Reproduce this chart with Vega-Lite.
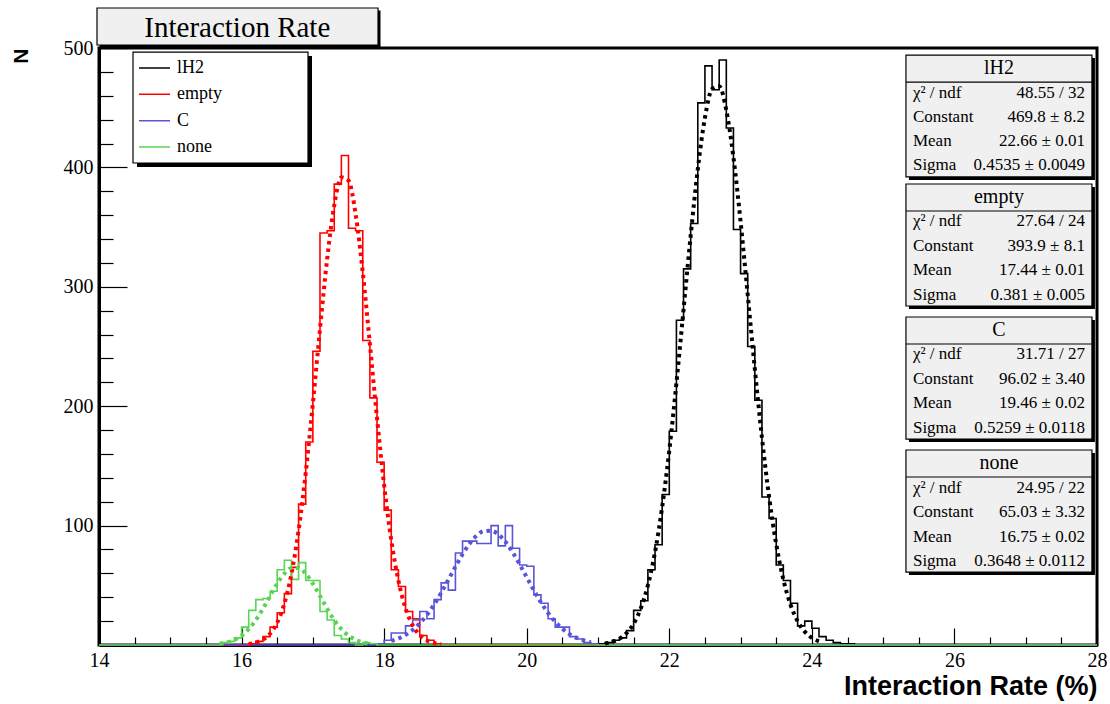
{
  "$schema": "https://vega.github.io/schema/vega-lite/v6.json",
  "width": 998,
  "height": 597,
  "autosize": {"type": "none"},
  "padding": {"left": 99, "top": 48, "right": 13, "bottom": 59},
  "background": "white",
  "config": {
    "view": {"stroke": "black", "strokeWidth": 3},
    "axis": {"grid": false}
  },
  "datasets": {
    "hist": [
      {"s":"lH2","x":14,"n":0},{"s":"lH2","x":21.0,"n":1},{"s":"lH2","x":21.1,"n":2},{"s":"lH2","x":21.2,"n":4},{"s":"lH2","x":21.3,"n":6},{"s":"lH2","x":21.4,"n":12},{"s":"lH2","x":21.5,"n":29},{"s":"lH2","x":21.6,"n":37},{"s":"lH2","x":21.7,"n":63},{"s":"lH2","x":21.8,"n":84},{"s":"lH2","x":21.9,"n":126},{"s":"lH2","x":22.0,"n":179},{"s":"lH2","x":22.1,"n":272},{"s":"lH2","x":22.2,"n":315},{"s":"lH2","x":22.3,"n":353},{"s":"lH2","x":22.4,"n":454},{"s":"lH2","x":22.5,"n":485},{"s":"lH2","x":22.6,"n":465},{"s":"lH2","x":22.7,"n":490},{"s":"lH2","x":22.8,"n":433},{"s":"lH2","x":22.9,"n":348},{"s":"lH2","x":23.0,"n":311},{"s":"lH2","x":23.1,"n":250},{"s":"lH2","x":23.2,"n":205},{"s":"lH2","x":23.3,"n":124},{"s":"lH2","x":23.4,"n":106},{"s":"lH2","x":23.5,"n":67},{"s":"lH2","x":23.6,"n":54},{"s":"lH2","x":23.7,"n":35},{"s":"lH2","x":23.8,"n":16},{"s":"lH2","x":23.9,"n":20},{"s":"lH2","x":24.0,"n":14},{"s":"lH2","x":24.1,"n":7},{"s":"lH2","x":24.2,"n":4},{"s":"lH2","x":24.3,"n":2},{"s":"lH2","x":24.4,"n":1},{"s":"lH2","x":24.5,"n":1},{"s":"lH2","x":24.6,"n":0},{"s":"lH2","x":28,"n":0},
      {"s":"empty","x":14,"n":0},{"s":"empty","x":16.1,"n":1},{"s":"empty","x":16.2,"n":3},{"s":"empty","x":16.3,"n":7},{"s":"empty","x":16.4,"n":15},{"s":"empty","x":16.5,"n":27},{"s":"empty","x":16.6,"n":43},{"s":"empty","x":16.7,"n":65},{"s":"empty","x":16.8,"n":118},{"s":"empty","x":16.9,"n":170},{"s":"empty","x":17.0,"n":246},{"s":"empty","x":17.1,"n":345},{"s":"empty","x":17.2,"n":347},{"s":"empty","x":17.3,"n":386},{"s":"empty","x":17.4,"n":410},{"s":"empty","x":17.5,"n":349},{"s":"empty","x":17.6,"n":347},{"s":"empty","x":17.7,"n":255},{"s":"empty","x":17.8,"n":207},{"s":"empty","x":17.9,"n":153},{"s":"empty","x":18.0,"n":113},{"s":"empty","x":18.1,"n":63},{"s":"empty","x":18.2,"n":49},{"s":"empty","x":18.3,"n":28},{"s":"empty","x":18.4,"n":22},{"s":"empty","x":18.5,"n":8},{"s":"empty","x":18.6,"n":4},{"s":"empty","x":18.7,"n":1},{"s":"empty","x":18.8,"n":0},{"s":"empty","x":28,"n":0},
      {"s":"C","x":14,"n":0},{"s":"C","x":17.9,"n":1},{"s":"C","x":18.0,"n":4},{"s":"C","x":18.1,"n":10},{"s":"C","x":18.2,"n":10},{"s":"C","x":18.3,"n":16},{"s":"C","x":18.4,"n":21},{"s":"C","x":18.5,"n":28},{"s":"C","x":18.6,"n":22},{"s":"C","x":18.7,"n":38},{"s":"C","x":18.8,"n":52},{"s":"C","x":18.9,"n":46},{"s":"C","x":19.0,"n":77},{"s":"C","x":19.1,"n":87},{"s":"C","x":19.2,"n":87},{"s":"C","x":19.3,"n":85},{"s":"C","x":19.4,"n":85},{"s":"C","x":19.5,"n":100},{"s":"C","x":19.6,"n":83},{"s":"C","x":19.7,"n":100},{"s":"C","x":19.8,"n":81},{"s":"C","x":19.9,"n":67},{"s":"C","x":20.0,"n":66},{"s":"C","x":20.1,"n":42},{"s":"C","x":20.2,"n":35},{"s":"C","x":20.3,"n":22},{"s":"C","x":20.4,"n":15},{"s":"C","x":20.5,"n":15},{"s":"C","x":20.6,"n":7},{"s":"C","x":20.7,"n":5},{"s":"C","x":20.8,"n":2},{"s":"C","x":20.9,"n":1},{"s":"C","x":21.0,"n":0},{"s":"C","x":28,"n":0},
      {"s":"none","x":14,"n":0},{"s":"none","x":15.7,"n":2},{"s":"none","x":15.8,"n":3},{"s":"none","x":15.9,"n":6},{"s":"none","x":16.0,"n":15},{"s":"none","x":16.1,"n":29},{"s":"none","x":16.2,"n":38},{"s":"none","x":16.3,"n":39},{"s":"none","x":16.4,"n":45},{"s":"none","x":16.5,"n":63},{"s":"none","x":16.6,"n":71},{"s":"none","x":16.7,"n":55},{"s":"none","x":16.8,"n":69},{"s":"none","x":16.9,"n":54},{"s":"none","x":17.0,"n":54},{"s":"none","x":17.1,"n":28},{"s":"none","x":17.2,"n":21},{"s":"none","x":17.3,"n":8},{"s":"none","x":17.4,"n":5},{"s":"none","x":17.5,"n":2},{"s":"none","x":17.6,"n":0},{"s":"none","x":17.7,"n":2},{"s":"none","x":17.8,"n":1},{"s":"none","x":17.9,"n":0},{"s":"none","x":28,"n":0}
    ],
    "fit": [
      {"s":"lH2","x":21.1,"f":1.27},{"s":"lH2","x":21.2,"f":2.64},{"s":"lH2","x":21.3,"f":5.24},{"s":"lH2","x":21.4,"f":9.9},{"s":"lH2","x":21.5,"f":17.84},{"s":"lH2","x":21.6,"f":30.6},{"s":"lH2","x":21.7,"f":49.98},{"s":"lH2","x":21.8,"f":77.8},{"s":"lH2","x":21.9,"f":115.4},{"s":"lH2","x":22.0,"f":162.9},{"s":"lH2","x":22.1,"f":219.2},{"s":"lH2","x":22.2,"f":280.9},{"s":"lH2","x":22.3,"f":342.8},{"s":"lH2","x":22.4,"f":398.6},{"s":"lH2","x":22.5,"f":441.5},{"s":"lH2","x":22.6,"f":465.7},{"s":"lH2","x":22.7,"f":468.0},{"s":"lH2","x":22.8,"f":447.9},{"s":"lH2","x":22.9,"f":408.4},{"s":"lH2","x":23.0,"f":354.7},{"s":"lH2","x":23.1,"f":293.4},{"s":"lH2","x":23.2,"f":231.2},{"s":"lH2","x":23.3,"f":173.6},{"s":"lH2","x":23.4,"f":124.1},{"s":"lH2","x":23.5,"f":84.5},{"s":"lH2","x":23.6,"f":54.8},{"s":"lH2","x":23.7,"f":33.9},{"s":"lH2","x":23.8,"f":19.9},{"s":"lH2","x":23.9,"f":11.2},{"s":"lH2","x":24.0,"f":5.97},{"s":"lH2","x":24.1,"f":3.04},
      {"s":"empty","x":16.1,"f":0.81},{"s":"empty","x":16.2,"f":1.97},{"s":"empty","x":16.3,"f":4.48},{"s":"empty","x":16.4,"f":9.5},{"s":"empty","x":16.5,"f":18.78},{"s":"empty","x":16.6,"f":34.66},{"s":"empty","x":16.7,"f":59.7},{"s":"empty","x":16.8,"f":96.1},{"s":"empty","x":16.9,"f":144.3},{"s":"empty","x":17.0,"f":202.2},{"s":"empty","x":17.1,"f":264.5},{"s":"empty","x":17.2,"f":323.0},{"s":"empty","x":17.3,"f":368.2},{"s":"empty","x":17.4,"f":391.7},{"s":"empty","x":17.5,"f":389.0},{"s":"empty","x":17.6,"f":360.7},{"s":"empty","x":17.7,"f":312.1},{"s":"empty","x":17.8,"f":252.1},{"s":"empty","x":17.9,"f":190.0},{"s":"empty","x":18.0,"f":133.7},{"s":"empty","x":18.1,"f":87.9},{"s":"empty","x":18.2,"f":53.9},{"s":"empty","x":18.3,"f":30.8},{"s":"empty","x":18.4,"f":16.5},{"s":"empty","x":18.5,"f":8.2},{"s":"empty","x":18.6,"f":3.8},{"s":"empty","x":18.7,"f":1.66},{"s":"empty","x":18.8,"f":0.67},
      {"s":"C","x":18.1,"f":3.39},{"s":"C","x":18.2,"f":5.44},{"s":"C","x":18.3,"f":8.43},{"s":"C","x":18.4,"f":12.59},{"s":"C","x":18.5,"f":18.15},{"s":"C","x":18.6,"f":25.2},{"s":"C","x":18.7,"f":33.8},{"s":"C","x":18.8,"f":43.7},{"s":"C","x":18.9,"f":54.5},{"s":"C","x":19.0,"f":65.5},{"s":"C","x":19.1,"f":76.0},{"s":"C","x":19.2,"f":85.0},{"s":"C","x":19.3,"f":91.7},{"s":"C","x":19.4,"f":95.4},{"s":"C","x":19.5,"f":95.7},{"s":"C","x":19.6,"f":92.7},{"s":"C","x":19.7,"f":86.5},{"s":"C","x":19.8,"f":77.9},{"s":"C","x":19.9,"f":67.7},{"s":"C","x":20.0,"f":56.7},{"s":"C","x":20.1,"f":45.8},{"s":"C","x":20.2,"f":35.7},{"s":"C","x":20.3,"f":26.8},{"s":"C","x":20.4,"f":19.4},{"s":"C","x":20.5,"f":13.6},{"s":"C","x":20.6,"f":9.16},{"s":"C","x":20.7,"f":5.96},{"s":"C","x":20.8,"f":3.74},{"s":"C","x":20.9,"f":2.26},
      {"s":"none","x":15.7,"f":1.03},{"s":"none","x":15.8,"f":2.19},{"s":"none","x":15.9,"f":4.31},{"s":"none","x":16.0,"f":7.86},{"s":"none","x":16.1,"f":13.3},{"s":"none","x":16.2,"f":20.9},{"s":"none","x":16.3,"f":30.4},{"s":"none","x":16.4,"f":41.0},{"s":"none","x":16.5,"f":51.4},{"s":"none","x":16.6,"f":59.8},{"s":"none","x":16.7,"f":64.4},{"s":"none","x":16.8,"f":64.4},{"s":"none","x":16.9,"f":59.8},{"s":"none","x":17.0,"f":51.4},{"s":"none","x":17.1,"f":41.0},{"s":"none","x":17.2,"f":30.4},{"s":"none","x":17.3,"f":20.9},{"s":"none","x":17.4,"f":13.3},{"s":"none","x":17.5,"f":7.86},{"s":"none","x":17.6,"f":4.31},{"s":"none","x":17.7,"f":2.19},{"s":"none","x":17.8,"f":1.03}
    ]
  },
  "resolve": {"axis": {"x": "independent", "y": "independent"}},
  "layer": [
    {
      "data": {"name": "hist"},
      "mark": {"type": "line", "interpolate": "step-after", "strokeWidth": 1.6},
      "encoding": {
        "x": {"field": "x", "type": "quantitative", "scale": {"domain": [14, 28], "nice": false, "zero": false},
          "axis": {"orient": "bottom", "values": [14,16,18,20,22,24,26,28], "tickSize": -17, "tickWidth": 1.2, "tickColor": "black", "domainColor": "black", "domainWidth": 3, "labelFont": "Liberation Serif", "labelFontSize": 20, "labelColor": "black", "labelPadding": 22, "labelFlush": false, "labelOverlap": false, "title": "Interaction Rate (%)", "titleFont": "Liberation Sans", "titleFontWeight": "bold", "titleFontSize": 27, "titleColor": "black", "titleAnchor": "end", "titlePadding": 3}},
        "y": {"field": "n", "type": "quantitative", "scale": {"domain": [0, 500], "nice": false},
          "axis": {"orient": "left", "values": [100,200,300,400,500], "tickSize": -28, "tickWidth": 1.2, "tickColor": "black", "domainColor": "black", "domainWidth": 3, "labelFont": "Liberation Serif", "labelFontSize": 20, "labelColor": "black", "labelPadding": 34, "labelFlush": false, "labelOverlap": false, "title": "N", "titleFont": "Liberation Sans", "titleFontWeight": "bold", "titleFontSize": 21, "titleColor": "black", "titleAnchor": "end", "titlePadding": 32}},
        "color": {"field": "s", "type": "nominal", "scale": {"domain": ["lH2", "empty", "C", "none"], "range": ["#000000", "#ff0000", "#5954d8", "#59d454"]}, "legend": null}
      }
    },
    {
      "data": {"name": "fit"},
      "mark": {"type": "line", "interpolate": "monotone", "strokeWidth": 4, "strokeDash": [3.5, 4]},
      "encoding": {
        "x": {"field": "x", "type": "quantitative",
          "axis": {"orient": "bottom", "values": [14.5,15,15.5,16.5,17,17.5,18.5,19,19.5,20.5,21,21.5,22.5,23,23.5,24.5,25,25.5,26.5,27,27.5], "tickSize": -8, "tickWidth": 1.2, "tickColor": "black", "labels": false, "domain": false, "title": null}},
        "y": {"field": "f", "type": "quantitative",
          "axis": {"orient": "left", "values": [20,40,60,80,120,140,160,180,220,240,260,280,320,340,360,380,420,440,460,480], "tickSize": -14, "tickWidth": 1.2, "tickColor": "black", "labels": false, "domain": false, "title": null}},
        "color": {"field": "s", "type": "nominal", "legend": null}
      }
    },
    {
      "data": {"values": [{}]},
      "mark": {"type": "rect", "fill": "black"},
      "encoding": {"x": {"datum": 14.007, "axis": null}, "x2": {"datum": 17.949}, "y": {"datum": 531.4, "axis": null}, "y2": {"datum": 500.4}}
    },
    {
      "data": {"values": [{}]},
      "mark": {"type": "rect", "fill": "#f0f0f0", "stroke": "black", "strokeWidth": 1.2},
      "encoding": {"x": {"datum": 13.972, "axis": null}, "x2": {"datum": 17.914}, "y": {"datum": 533.5, "axis": null}, "y2": {"datum": 502.5}}
    },
    {
      "data": {"values": [{"t": "Interaction Rate"}]},
      "mark": {"type": "text", "font": "Liberation Serif", "fontSize": 29, "color": "black", "align": "center", "baseline": "middle"},
      "encoding": {"x": {"datum": 15.94, "axis": null}, "y": {"datum": 517.0, "axis": null}, "text": {"field": "t"}}
    },
    {
      "data": {"values": [{}]},
      "mark": {"type": "rect", "fill": "black"},
      "encoding": {"x": {"datum": 14.533, "axis": null}, "x2": {"datum": 16.988}, "y": {"datum": 493.3, "axis": null}, "y2": {"datum": 400.3}}
    },
    {
      "data": {"values": [{}]},
      "mark": {"type": "rect", "fill": "white", "stroke": "black", "strokeWidth": 1.2},
      "encoding": {"x": {"datum": 14.477, "axis": null}, "x2": {"datum": 16.932}, "y": {"datum": 496.6, "axis": null}, "y2": {"datum": 403.7}}
    },
    {
      "data": {"values": [{}]},
      "mark": {"type": "rule", "color": "#000000", "strokeWidth": 1.5},
      "encoding": {"x": {"datum": 14.561, "axis": null}, "x2": {"datum": 14.996}, "y": {"datum": 483.2, "axis": null}}
    },
    {
      "data": {"values": [{}]},
      "mark": {"type": "rule", "color": "#ff0000", "strokeWidth": 1.5},
      "encoding": {"x": {"datum": 14.561, "axis": null}, "x2": {"datum": 14.996}, "y": {"datum": 461.2, "axis": null}}
    },
    {
      "data": {"values": [{}]},
      "mark": {"type": "rule", "color": "#5954d8", "strokeWidth": 1.5},
      "encoding": {"x": {"datum": 14.561, "axis": null}, "x2": {"datum": 14.996}, "y": {"datum": 439.1, "axis": null}}
    },
    {
      "data": {"values": [{}]},
      "mark": {"type": "rule", "color": "#59d454", "strokeWidth": 1.5},
      "encoding": {"x": {"datum": 14.561, "axis": null}, "x2": {"datum": 14.996}, "y": {"datum": 417.1, "axis": null}}
    },
    {
      "data": {"values": [{"t": "lH2\nempty\nC\nnone"}]},
      "mark": {"type": "text", "font": "Liberation Serif", "fontSize": 18, "color": "black", "align": "left", "baseline": "middle", "lineBreak": "\n", "lineHeight": 26.3},
      "encoding": {"x": {"datum": 15.094, "axis": null}, "y": {"datum": 483.2, "axis": null}, "text": {"field": "t"}}
    },

    {"data": {"values": [{}]}, "mark": {"type": "rect", "fill": "black"},
      "encoding": {"x": {"datum": 25.362, "axis": null}, "x2": {"datum": 27.971}, "y": {"datum": 491.6, "axis": null}, "y2": {"datum": 389.5}}},
    {"data": {"values": [{}]}, "mark": {"type": "rect", "fill": "#f0f0f0", "stroke": "black", "strokeWidth": 1.2},
      "encoding": {"x": {"datum": 25.32, "axis": null}, "x2": {"datum": 27.929}, "y": {"datum": 494.1, "axis": null}, "y2": {"datum": 392.0}}},
    {"data": {"values": [{}]}, "mark": {"type": "rule", "color": "black", "strokeWidth": 1.2},
      "encoding": {"x": {"datum": 25.32, "axis": null}, "x2": {"datum": 27.929}, "y": {"datum": 471.5, "axis": null}}},
    {"data": {"values": [{"t": "lH2"}]}, "mark": {"type": "text", "font": "Liberation Serif", "fontSize": 20, "color": "black", "align": "center", "baseline": "middle"},
      "encoding": {"x": {"datum": 26.625, "axis": null}, "y": {"datum": 483.2, "axis": null}, "text": {"field": "t"}}},
    {"data": {"values": [{"t": "χ² / ndf\nConstant\nMean\nSigma"}]}, "mark": {"type": "text", "font": "Liberation Serif", "fontSize": 17, "color": "black", "align": "left", "baseline": "middle", "lineBreak": "\n", "lineHeight": 24},
      "encoding": {"x": {"datum": 25.418, "axis": null}, "y": {"datum": 462.7, "axis": null}, "text": {"field": "t"}}},
    {"data": {"values": [{"t": "48.55 / 32\n469.8 ± 8.2\n22.66 ± 0.01\n0.4535 ± 0.0049"}]}, "mark": {"type": "text", "font": "Liberation Serif", "fontSize": 17, "color": "black", "align": "right", "baseline": "middle", "lineBreak": "\n", "lineHeight": 24},
      "encoding": {"x": {"datum": 27.831, "axis": null}, "y": {"datum": 462.7, "axis": null}, "text": {"field": "t"}}},

    {"data": {"values": [{}]}, "mark": {"type": "rect", "fill": "black"},
      "encoding": {"x": {"datum": 25.362, "axis": null}, "x2": {"datum": 27.971}, "y": {"datum": 383.6, "axis": null}, "y2": {"datum": 281.4}}},
    {"data": {"values": [{}]}, "mark": {"type": "rect", "fill": "#f0f0f0", "stroke": "black", "strokeWidth": 1.2},
      "encoding": {"x": {"datum": 25.32, "axis": null}, "x2": {"datum": 27.929}, "y": {"datum": 386.1, "axis": null}, "y2": {"datum": 283.9}}},
    {"data": {"values": [{}]}, "mark": {"type": "rule", "color": "black", "strokeWidth": 1.2},
      "encoding": {"x": {"datum": 25.32, "axis": null}, "x2": {"datum": 27.929}, "y": {"datum": 363.5, "axis": null}}},
    {"data": {"values": [{"t": "empty"}]}, "mark": {"type": "text", "font": "Liberation Serif", "fontSize": 20, "color": "black", "align": "center", "baseline": "middle"},
      "encoding": {"x": {"datum": 26.625, "axis": null}, "y": {"datum": 375.2, "axis": null}, "text": {"field": "t"}}},
    {"data": {"values": [{"t": "χ² / ndf\nConstant\nMean\nSigma"}]}, "mark": {"type": "text", "font": "Liberation Serif", "fontSize": 17, "color": "black", "align": "left", "baseline": "middle", "lineBreak": "\n", "lineHeight": 24.5},
      "encoding": {"x": {"datum": 25.418, "axis": null}, "y": {"datum": 354.7, "axis": null}, "text": {"field": "t"}}},
    {"data": {"values": [{"t": "27.64 / 24\n393.9 ± 8.1\n17.44 ± 0.01\n0.381 ± 0.005"}]}, "mark": {"type": "text", "font": "Liberation Serif", "fontSize": 17, "color": "black", "align": "right", "baseline": "middle", "lineBreak": "\n", "lineHeight": 24.5},
      "encoding": {"x": {"datum": 27.831, "axis": null}, "y": {"datum": 354.7, "axis": null}, "text": {"field": "t"}}},

    {"data": {"values": [{}]}, "mark": {"type": "rect", "fill": "black"},
      "encoding": {"x": {"datum": 25.362, "axis": null}, "x2": {"datum": 27.971}, "y": {"datum": 272.2, "axis": null}, "y2": {"datum": 170.0}}},
    {"data": {"values": [{}]}, "mark": {"type": "rect", "fill": "#f0f0f0", "stroke": "black", "strokeWidth": 1.2},
      "encoding": {"x": {"datum": 25.32, "axis": null}, "x2": {"datum": 27.929}, "y": {"datum": 274.7, "axis": null}, "y2": {"datum": 172.5}}},
    {"data": {"values": [{}]}, "mark": {"type": "rule", "color": "black", "strokeWidth": 1.2},
      "encoding": {"x": {"datum": 25.32, "axis": null}, "x2": {"datum": 27.929}, "y": {"datum": 252.1, "axis": null}}},
    {"data": {"values": [{"t": "C"}]}, "mark": {"type": "text", "font": "Liberation Serif", "fontSize": 20, "color": "black", "align": "center", "baseline": "middle"},
      "encoding": {"x": {"datum": 26.625, "axis": null}, "y": {"datum": 263.8, "axis": null}, "text": {"field": "t"}}},
    {"data": {"values": [{"t": "χ² / ndf\nConstant\nMean\nSigma"}]}, "mark": {"type": "text", "font": "Liberation Serif", "fontSize": 17, "color": "black", "align": "left", "baseline": "middle", "lineBreak": "\n", "lineHeight": 24.5},
      "encoding": {"x": {"datum": 25.418, "axis": null}, "y": {"datum": 243.3, "axis": null}, "text": {"field": "t"}}},
    {"data": {"values": [{"t": "31.71 / 27\n96.02 ± 3.40\n19.46 ± 0.02\n0.5259 ± 0.0118"}]}, "mark": {"type": "text", "font": "Liberation Serif", "fontSize": 17, "color": "black", "align": "right", "baseline": "middle", "lineBreak": "\n", "lineHeight": 24.5},
      "encoding": {"x": {"datum": 27.831, "axis": null}, "y": {"datum": 243.3, "axis": null}, "text": {"field": "t"}}},

    {"data": {"values": [{}]}, "mark": {"type": "rect", "fill": "black"},
      "encoding": {"x": {"datum": 25.362, "axis": null}, "x2": {"datum": 27.971}, "y": {"datum": 160.8, "axis": null}, "y2": {"datum": 58.6}}},
    {"data": {"values": [{}]}, "mark": {"type": "rect", "fill": "#f0f0f0", "stroke": "black", "strokeWidth": 1.2},
      "encoding": {"x": {"datum": 25.32, "axis": null}, "x2": {"datum": 27.929}, "y": {"datum": 163.3, "axis": null}, "y2": {"datum": 61.1}}},
    {"data": {"values": [{}]}, "mark": {"type": "rule", "color": "black", "strokeWidth": 1.2},
      "encoding": {"x": {"datum": 25.32, "axis": null}, "x2": {"datum": 27.929}, "y": {"datum": 140.7, "axis": null}}},
    {"data": {"values": [{"t": "none"}]}, "mark": {"type": "text", "font": "Liberation Serif", "fontSize": 20, "color": "black", "align": "center", "baseline": "middle"},
      "encoding": {"x": {"datum": 26.625, "axis": null}, "y": {"datum": 152.4, "axis": null}, "text": {"field": "t"}}},
    {"data": {"values": [{"t": "χ² / ndf\nConstant\nMean\nSigma"}]}, "mark": {"type": "text", "font": "Liberation Serif", "fontSize": 17, "color": "black", "align": "left", "baseline": "middle", "lineBreak": "\n", "lineHeight": 24.5},
      "encoding": {"x": {"datum": 25.418, "axis": null}, "y": {"datum": 131.9, "axis": null}, "text": {"field": "t"}}},
    {"data": {"values": [{"t": "24.95 / 22\n65.03 ± 3.32\n16.75 ± 0.02\n0.3648 ± 0.0112"}]}, "mark": {"type": "text", "font": "Liberation Serif", "fontSize": 17, "color": "black", "align": "right", "baseline": "middle", "lineBreak": "\n", "lineHeight": 24.5},
      "encoding": {"x": {"datum": 27.831, "axis": null}, "y": {"datum": 131.9, "axis": null}, "text": {"field": "t"}}}
  ]
}
